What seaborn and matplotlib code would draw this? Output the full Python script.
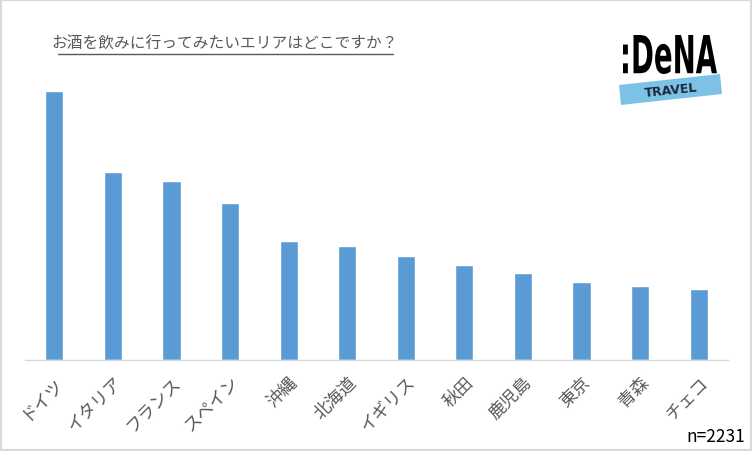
import matplotlib
matplotlib.use("Agg")
import matplotlib.pyplot as plt
from matplotlib.patches import Rectangle, Polygon, PathPatch
from matplotlib.lines import Line2D
from matplotlib.textpath import TextPath
from matplotlib.font_manager import FontProperties
from matplotlib.transforms import Affine2D, IdentityTransform
import seaborn as sns
import pandas as pd

# data (relative bar heights)
areas = ['ドイツ', 'イタリア', 'フランス', 'スペイン', '沖縄', '北海道',
         'イギリス', '秋田', '鹿児島', '東京', '青森', 'チェコ']
values = [269, 188, 179, 157, 119, 114, 104, 95, 87, 78, 74, 71]
title = 'お酒を飲みに行ってみたいエリアはどこですか？'
sample_note = 'n=2231'

sns.set_style('white')
plt.rcParams['font.family'] = ['Noto Sans CJK JP', 'DejaVu Sans']

df = pd.DataFrame({'area': areas, 'value': values})

fig = plt.figure(figsize=(7.52, 4.52), dpi=100)
ax = fig.add_axes([25 / 752, 91 / 452, 703 / 752, 300 / 452])

sns.barplot(data=df, x='area', y='value', color='#5B9BD5', width=0.31,
            saturation=1, ax=ax)
ax.set_xlim(-0.5, len(areas) - 0.5)
ax.set_ylim(0, 300)
ax.set_xlabel('')
ax.set_ylabel('')
ax.set_yticks([])
for s in ['top', 'right', 'left']:
    ax.spines[s].set_visible(False)
ax.spines['bottom'].set_color('#D9D9D9')
ax.spines['bottom'].set_linewidth(1)
ax.tick_params(axis='x', length=0, pad=9)
plt.setp(ax.get_xticklabels(), rotation=45, ha='right', rotation_mode='anchor',
         fontsize=12.5, color='#595959')

# title with underline
fig.text(225 / 752, 1 - 44 / 452, title, ha='center', va='center',
         fontsize=11.3, color='#595959')
fig.add_artist(Line2D([58 / 752, 393 / 752], [1 - 55 / 452, 1 - 55 / 452],
                      color='#595959', linewidth=1))

# logo: band + TRAVEL
fig.patches.append(Polygon([[619 / 752, 1 - 86 / 452], [720 / 752, 1 - 75 / 452],
                            [722 / 752, 1 - 95 / 452], [621 / 752, 1 - 106 / 452]],
                           closed=True, transform=fig.transFigure,
                           facecolor='#7DC2E6', edgecolor='none'))
fig.text(671 / 752, 1 - 91 / 452, 'TRAVEL', ha='center', va='center',
         fontsize=9, fontweight='bold', color='#1A2A3A', rotation=6,
         family='DejaVu Sans')

# logo word mark, stretched into its box (pixel coords, origin bottom-left)
tp = TextPath((0, 0), ':DeNA', size=20,
              prop=FontProperties(family='DejaVu Sans', weight='bold'))
bb = tp.get_extents()
x0, x1, y0, y1 = 623, 717, 452 - 75, 452 - 36
logo_tf = (Affine2D().translate(-bb.x0, -bb.y0)
           .scale((x1 - x0) / bb.width, (y1 - y0) / bb.height)
           .translate(x0, y0))
fig.patches.append(PathPatch(logo_tf.transform_path(tp), facecolor='black',
                             edgecolor='none', transform=IdentityTransform()))

fig.text(745 / 752, 1 - 437 / 452, sample_note, ha='right', va='center',
         fontsize=12.5, color='black')

# outer frame
fig.patches.append(Rectangle((0, 0), 1, 1, transform=fig.transFigure,
                             fill=False, edgecolor='#D9D9D9', linewidth=3))

plt.savefig('out.png', dpi=100)
